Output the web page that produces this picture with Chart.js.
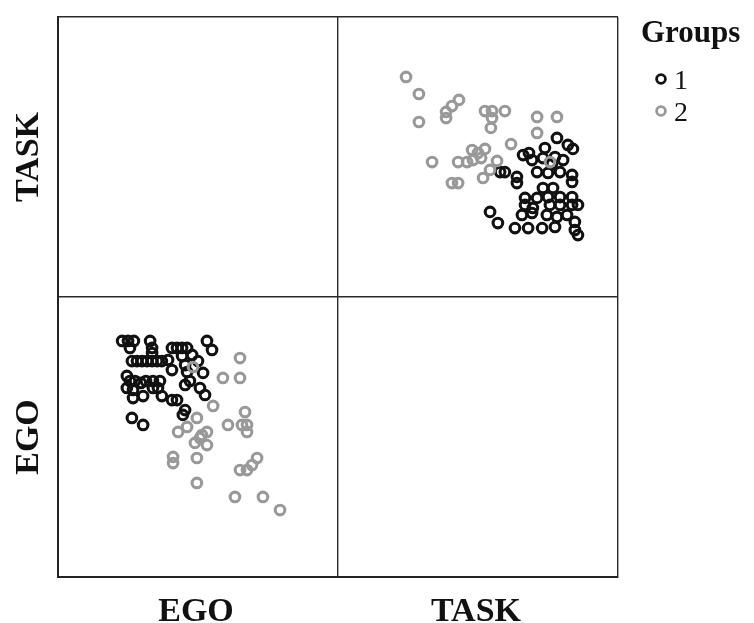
<!DOCTYPE html>
<html>
<head>
<meta charset="utf-8">
<script src="https://cdn.jsdelivr.net/npm/chart.js@4/dist/chart.umd.min.js"></script>
<style>
  html, body { margin: 0; padding: 0; background: #ffffff; }
  #wrap { width: 754px; height: 623px; }
</style>
</head>
<body>
<div id="wrap"><canvas id="c" width="754" height="623"></canvas></div>
<script>
// Variable names of the scatterplot matrix (columns left→right, rows top→bottom)
const columnVars = ["EGO", "TASK"];
const rowVars = ["TASK", "EGO"];
const groupNames = ["1", "2"];
const legendTitle = "Groups";

// Panel values on a 0–100 panel scale
// Top-right panel: x = TASK, y = TASK
const taskTaskGroup1 = [
  [78.2,56.8],[73.9,53.2],[82.1,54.3],[83.9,52.9],[66.1,50.7],[69.3,48.9],[73.2,49.6],[77.5,50],[80.4,48.9],
  [71.1,44.6],[75,44.3],[79.3,44.6],[83.6,43.6],[83.6,41.1],[59.6,44.6],[57.9,44.6],[63.9,42.9],[63.9,40.7],
  [73.2,38.9],[76.8,38.9],[66.8,35.4],[71.1,35.4],[75,35.7],[79.3,35.7],[83.6,35.7],[85.7,32.9],[66.8,32.9],
  [69.6,31.8],[75.7,32.9],[79.3,32.9],[83.6,32.9],[65.7,29.3],[69.3,30],[74.6,29.3],[78.2,28.6],[81.8,29.3],
  [54.3,30.4],[57.1,26.4],[63.2,24.6],[67.9,24.6],[72.9,24.6],[77.5,25],[84.6,23.9],[85.7,22.1],[84.6,26.8],
  [68.2,51.4],[76.4,47.5]
];
const taskTaskGroup2 = [
  [24.3,78.6],[28.9,72.5],[28.9,62.5],[38.6,66.1],[40.7,68.2],[43.2,70.4],[38.6,63.9],[52.5,66.4],[55,66.4],
  [59.6,66.4],[55,63.9],[54.6,60.4],[71.1,64.3],[78.2,64.3],[71.1,58.6],[61.8,54.6],[47.9,52.5],[50,51.4],
  [52.5,52.9],[33.6,48.2],[42.9,48.2],[46.1,48.2],[48.2,48.9],[51.1,49.6],[56.8,48.6],[54.3,45.4],[51.8,42.5],
  [40.7,40.7],[42.9,40.7],[75.7,48.2]
];
// Bottom-left panel: x = EGO, y = EGO
const egoEgoGroup1 = [
  [22.9,84.3],[25,84.3],[27.1,84.3],[32.9,84.3],[25.7,81.8],[33.6,81.8],[33.6,80],[40.7,81.8],[42.5,81.8],
  [44.3,81.8],[46.1,81.8],[53.2,84.3],[55,81.1],[26.4,77.1],[28.2,77.1],[30,77.1],[31.8,77.1],[33.6,77.1],
  [35.4,77.1],[37.1,77.1],[39.3,77.5],[44.3,78.9],[47.9,79.3],[50,77.1],[40.7,73.9],[45.4,75.7],[46.1,73.2],
  [24.6,71.8],[25.7,70],[27.5,70],[29.6,69.3],[31.4,70],[33.9,70],[36.4,70],[47.1,70],[51.8,72.9],
  [24.6,67.5],[26.8,66.8],[33.9,67.5],[35.7,67.5],[50.7,67.5],[52.5,65],[26.8,63.9],[30.4,64.6],[37.1,64.6],
  [40.7,63.2],[42.5,63.2],[45.4,59.6],[44.6,57.9],[26.4,56.8],[30.4,54.3],[45.4,68.6]
];
const egoEgoGroup2 = [
  [48.2,75],[65,78.2],[58.9,71.1],[65,71.1],[55.4,61.1],[66.8,58.9],[49.6,56.8],[60.7,54.3],[65.7,54.3],
  [67.5,54.3],[67.5,51.8],[42.9,51.8],[46.1,53.6],[53.2,51.8],[51.4,50.7],[50.7,49.6],[48.9,47.9],[53.2,47.1],
  [41.1,42.9],[41.1,40.7],[49.6,42.5],[65,38.2],[67.5,38.2],[69.3,40],[71.1,42.5],[49.6,33.6],[63.2,28.6],
  [73.2,28.6],[79.3,23.9]
];

const PANEL = 100; // size of one panel on the shared scale
const colorG1 = '#111111';
const colorG2 = '#999999';

function place(pairs, col, row) {
  // col: 0 = left column, 1 = right column; row: 0 = top row, 1 = bottom row
  return pairs.map(([x, y]) => ({ x: x + col * PANEL, y: y + (1 - row) * PANEL }));
}

const pointStyle = (c) => ({
  showLine: false,
  borderColor: c,
  backgroundColor: 'rgba(0,0,0,0)',
  pointBackgroundColor: 'rgba(0,0,0,0)',
  pointBorderColor: c,
  pointRadius: 4.8,
  pointBorderWidth: 3.1,
  pointHoverRadius: 4.8
});

const datasets = [
  Object.assign({ label: groupNames[0], data: place(taskTaskGroup1, 1, 0).concat(place(egoEgoGroup1, 0, 1)), order: 2 }, pointStyle(colorG1)),
  Object.assign({ label: groupNames[1], data: place(taskTaskGroup2, 1, 0).concat(place(egoEgoGroup2, 0, 1)), order: 1 }, pointStyle(colorG2))
];

const labelsPlugin = {
  id: 'matrixLabels',
  afterDraw(chart) {
    const ctx = chart.ctx;
    const xs = chart.scales.x, ys = chart.scales.y;
    ctx.save();
    ctx.fillStyle = '#111';
    ctx.font = 'bold 34px "Liberation Serif", "DejaVu Serif", serif';
    ctx.textAlign = 'center';
    ctx.textBaseline = 'alphabetic';
    columnVars.forEach((v, i) => {
      const cx = xs.getPixelForValue(PANEL * i + PANEL / 2) - 2;
      ctx.fillText(v, cx, 621);
    });
    rowVars.forEach((v, i) => {
      const cy = ys.getPixelForValue(PANEL * (1 - i) + PANEL / 2);
      ctx.save();
      ctx.translate(38, cy);
      ctx.rotate(-Math.PI / 2);
      ctx.fillText(v, 0, 0);
      ctx.restore();
    });
    // legend
    ctx.textAlign = 'left';
    ctx.font = 'bold 31px "Liberation Serif", "DejaVu Serif", serif';
    ctx.fillText(legendTitle, 641, 42);
    ctx.font = '28px "Liberation Serif", "DejaVu Serif", serif';
    const rows = [{ c: colorG1, y: 79 }, { c: colorG2, y: 111 }];
    rows.forEach((r, i) => {
      ctx.beginPath();
      ctx.strokeStyle = r.c;
      ctx.lineWidth = 2.8;
      ctx.arc(661, r.y, 4.4, 0, Math.PI * 2);
      ctx.stroke();
      ctx.fillStyle = '#111';
      ctx.fillText(groupNames[i], 674, r.y + 10);
    });
    ctx.restore();
  }
};

const axisCommon = {
  type: 'linear',
  min: 0,
  max: 2 * PANEL,
  ticks: { display: false, stepSize: PANEL },
  grid: { color: '#2a2a2a', lineWidth: 1.4, drawTicks: false },
  border: { display: true, color: '#222222', width: 2 },
  title: { display: false }
};

new Chart(document.getElementById('c'), {
  type: 'scatter',
  data: { datasets },
  options: {
    responsive: false,
    animation: false,
    events: [],
    layout: { padding: { left: 58, top: 17, right: 136, bottom: 46 } },
    plugins: { legend: { display: false }, tooltip: { enabled: false } },
    scales: {
      x: Object.assign({}, axisCommon, { position: 'bottom' }),
      y: Object.assign({}, axisCommon, { position: 'left' })
    }
  },
  plugins: [labelsPlugin]
});
</script>
</body>
</html>
